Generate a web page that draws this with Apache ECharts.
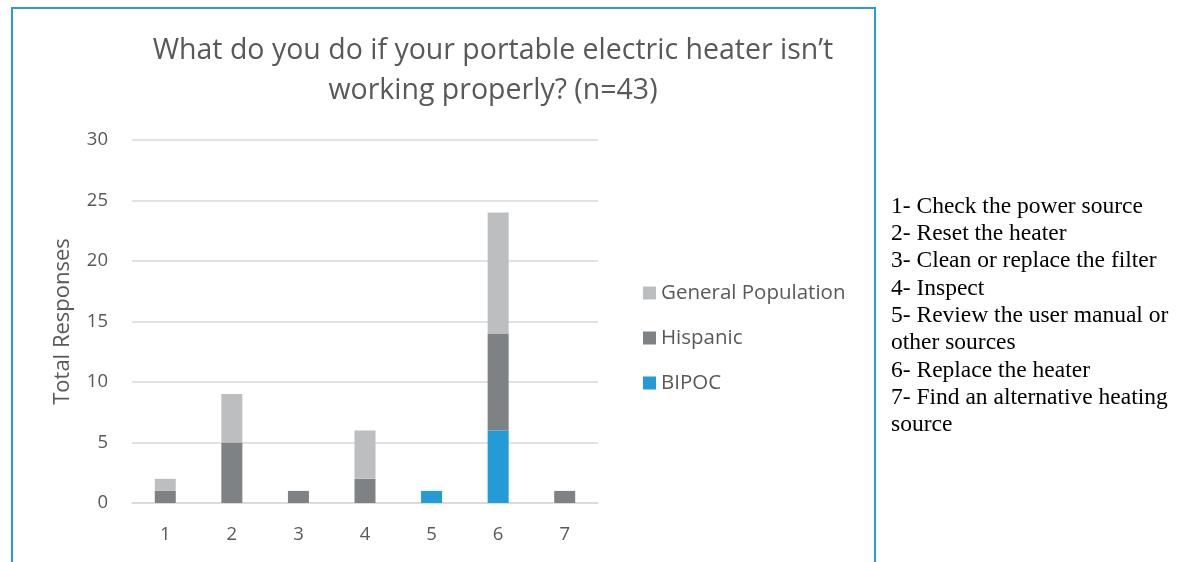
<!DOCTYPE html>
<html><head><meta charset="utf-8">
<script src="https://cdn.jsdelivr.net/npm/echarts@6/dist/echarts.min.js"></script>
<style>html,body{margin:0;padding:0;background:#fff}#c{width:1191px;height:562px}</style>
</head><body><div id="c"></div>
<script>
const categories = ['1','2','3','4','5','6','7'];
const bipoc = [0,0,0,0,1,6,0];
const hispanic = [1,5,1,2,0,8,1];
const generalPop = [1,4,0,4,0,10,0];
const legendNotes = [
  '1- Check the power source',
  '2- Reset the heater',
  '3- Clean or replace the filter',
  '4- Inspect',
  '5- Review the user manual or',
  'other sources',
  '6- Replace the heater',
  '7- Find an alternative heating',
  'source'
];
const chart = echarts.init(document.getElementById('c'));
const font = 'Open Sans';
chart.setOption({
  animation:false,
  title:{
    text:'What do you do if your portable electric heater isn\u2019t\nworking properly? (n=43)',
    left:488, top:26, textAlign:'center',
    textStyle:{fontFamily:font, fontSize:28.5, fontWeight:'normal', color:'#595959', lineHeight:40}
  },
  legend:{
    orient:'vertical', left:638, top:275, itemGap:19, itemWidth:13, itemHeight:13,
    icon:'rect',
    data:['General Population','Hispanic','BIPOC'],
    textStyle:{fontFamily:font, fontSize:20.5, color:'#595959', lineHeight:26}
  },
  grid:{left:132, right:593, top:140, bottom:59},
  xAxis:{
    type:'category', data:categories,
    axisLine:{lineStyle:{color:'#d9d9d9', width:1.5}},
    axisTick:{show:false},
    axisLabel:{fontFamily:font, fontSize:18.5, color:'#595959', margin:22}
  },
  yAxis:{
    type:'value', min:0, max:30, interval:5,
    name:'Total Responses', nameLocation:'middle', nameGap:58,
    nameTextStyle:{fontFamily:font, fontSize:22, color:'#595959'},
    axisLabel:{fontFamily:font, fontSize:18.5, color:'#595959', margin:24},
    splitLine:{lineStyle:{color:'#d9d9d9', width:1.5}},
    axisLine:{show:false}, axisTick:{show:false}
  },
  series:[
    {name:'BIPOC', type:'bar', stack:'s', data:bipoc, barWidth:21, itemStyle:{color:'#229bd6'}},
    {name:'Hispanic', type:'bar', stack:'s', data:hispanic, barWidth:21, itemStyle:{color:'#7f8284'}},
    {name:'General Population', type:'bar', stack:'s', data:generalPop, barWidth:21, itemStyle:{color:'#bdbebf'}}
  ],
  graphic:[
    {type:'rect', shape:{x:12, y:8, width:863, height:570}, style:{fill:'none', stroke:'#2a9bd5', lineWidth:2}, silent:true},
    {type:'text', left:891, top:193, style:{text:legendNotes.join('\n'), font:'23.5px "Liberation Serif"', fill:'#000', lineHeight:27.3}}
  ]
});
</script></body></html>
